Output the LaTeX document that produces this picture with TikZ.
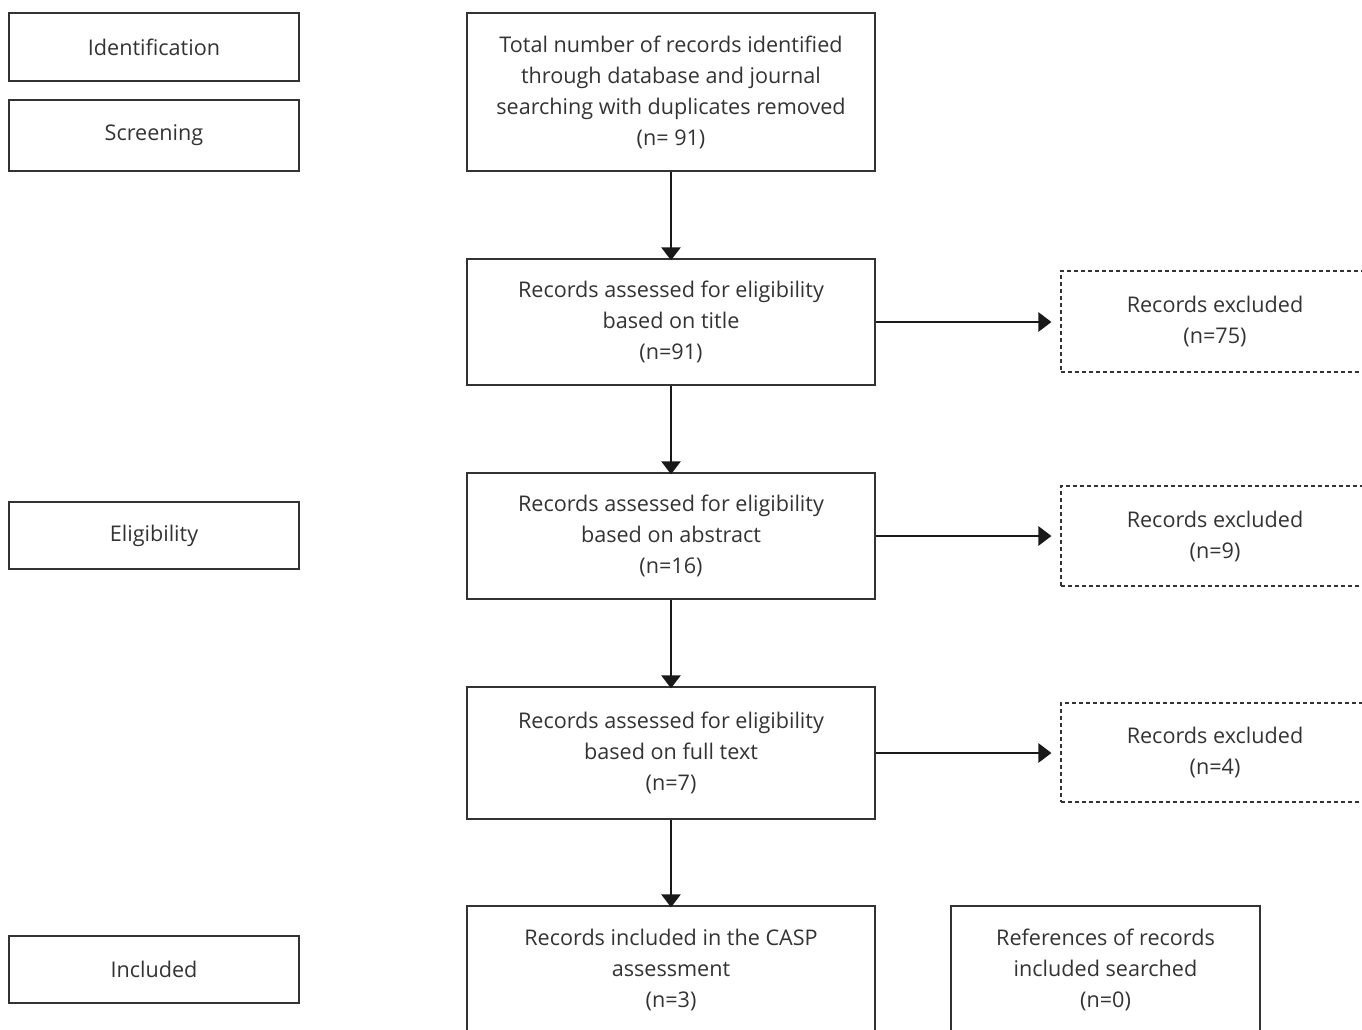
\documentclass[tikz,border=0pt]{standalone}
\usepackage{fontspec}
\setmainfont{Open Sans}
\usetikzlibrary{arrows.meta}
\definecolor{txt}{HTML}{333333}
\tikzset{
  x=1pt,y=-1pt,
  box/.style={draw=txt,line width=1.3pt,align=center,text=txt,inner sep=0pt,
    font=\fontsize{21.6}{31}\selectfont},
  dbox/.style={box,dashed,dash pattern=on 4pt off 3pt,line width=1.1pt},
  arr/.style={line width=2.6pt,-{Triangle[width=19pt,length=13pt]},color=black!90},
}
\begin{document}
\begin{tikzpicture}
\clip (0,0) rectangle (1362,1030);
\useasboundingbox (0,0) rectangle (1362,1030);
% stage boxes
\node[box,minimum width=290,minimum height=68] (ident) at (154,47) {Identification};
\node[box,minimum width=290,minimum height=71] (screen) at (154,135.5) {Screening};
\node[box,minimum width=290,minimum height=67] (elig) at (154,535.5) {Eligibility};
\node[box,minimum width=290,minimum height=67] (incl) at (154,969.5) {Included};
% main column
\node[box,minimum width=408,minimum height=158] (b1) at (671,92) {Total number of records identified\\through database and journal\\searching with duplicates removed\\(n= 91)};
\node[box,minimum width=408,minimum height=126] (b2) at (671,322) {Records assessed for eligibility\\based on title\\(n=91)};
\node[box,minimum width=408,minimum height=126] (b3) at (671,536) {Records assessed for eligibility\\based on abstract\\(n=16)};
\node[box,minimum width=408,minimum height=132] (b4) at (671,753) {Records assessed for eligibility\\based on full text\\(n=7)};
\node[box,minimum width=408,minimum height=128] (b5) at (671,970) {Records included in the CASP\\assessment\\(n=3)};
\node[box,minimum width=309,minimum height=128] (b6) at (1105.5,970) {References of records\\included searched\\(n=0)};
% excluded
\node[dbox,minimum width=308,minimum height=101] (e1) at (1215,321.5) {Records excluded\\(n=75)};
\node[dbox,minimum width=308,minimum height=100] (e2) at (1215,536) {Records excluded\\(n=9)};
\node[dbox,minimum width=308,minimum height=99] (e3) at (1215,752.5) {Records excluded\\(n=4)};
% arrows
\draw[arr] (b1.south) -- ([yshift=-2pt]b2.north);
\draw[arr] (b2.south) -- ([yshift=-2pt]b3.north);
\draw[arr] (b3.south) -- ([yshift=-2pt]b4.north);
\draw[arr] (b4.south) -- ([yshift=-2pt]b5.north);
\draw[arr] (b2.east) -- ([xshift=-9pt]e1.west |- b2.east);
\draw[arr] (b3.east) -- ([xshift=-9pt]e2.west |- b3.east);
\draw[arr] (b4.east) -- ([xshift=-9pt]e3.west |- b4.east);
\end{tikzpicture}
\end{document}
